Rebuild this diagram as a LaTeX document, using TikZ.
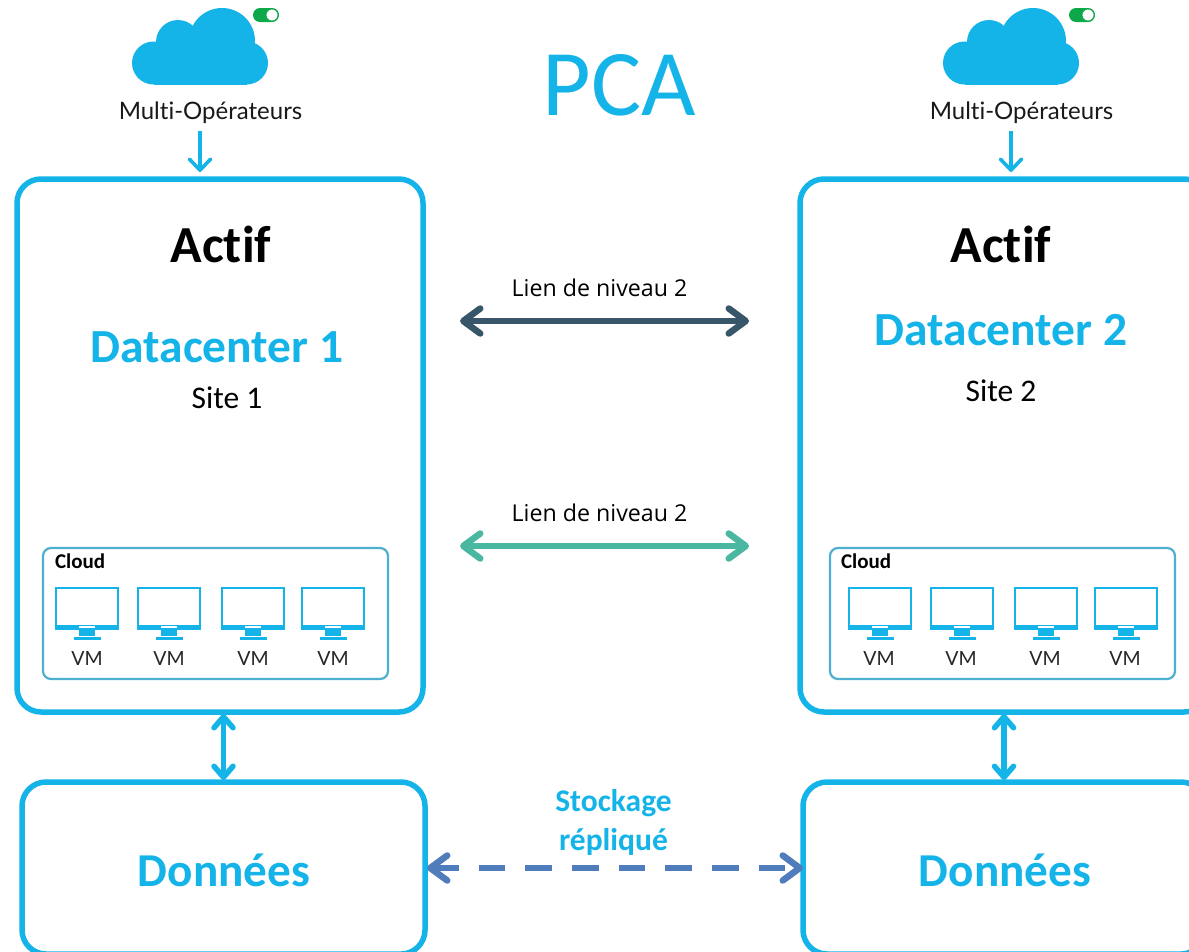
\documentclass[tikz,border=0pt]{standalone}
\usepackage{fontspec}
\setmainfont[Ligatures=NoCommon]{Carlito}
\newfontfamily\latofont[Ligatures=NoCommon]{Lato}
\newfontfamily\opensfont{Open Sans}
\usetikzlibrary{arrows.meta}
\definecolor{cyanb}{HTML}{14B4E9}
\definecolor{panelb}{HTML}{4FAFCF}
\definecolor{slate}{HTML}{37566A}
\definecolor{teal}{HTML}{4AB8A0}
\definecolor{steel}{HTML}{4F7DBB}
\definecolor{togglegreen}{HTML}{0DA84A}
\newcommand{\fs}[1]{\fontsize{#1}{#1}\selectfont}
\tikzset{
  x=1pt,y=-1pt,
  bigbox/.style={draw=cyanb,line width=5.5pt,rounded corners=24pt,outer sep=0pt,inner sep=0pt,fill=white},
  panelbox/.style={draw=panelb,line width=2.2pt,rounded corners=8pt,outer sep=0pt,inner sep=0pt},
  barbs/.style={{Straight Barb[length=17pt,width=25pt,line cap=round,line join=round]}-{Straight Barb[length=17pt,width=25pt,line cap=round,line join=round]}},
  link/.style={line width=6.5pt,barbs},
  drop/.style={draw=cyanb,line width=3.6pt,-{Straight Barb[length=11pt,width=21pt,line cap=round,line join=round]}},
  vlink/.style={draw=cyanb,line width=5.5pt,{Straight Barb[length=11pt,width=19pt,line cap=round,line join=round]}-{Straight Barb[length=11pt,width=19pt,line cap=round,line join=round]}},
  txt/.style={inner sep=0pt,outer sep=0pt,anchor=center},
  cloudlabel/.style={txt,font=\latofont\fs{24},text=black!90},
  actif/.style={txt,font=\bfseries\fs{52}},
  dc/.style={txt,font=\bfseries\fs{47.5},text=cyanb},
  site/.style={txt,font=\fs{31.5}},
  lien/.style={txt,font=\opensfont\fs{23.2}},
  donnees/.style={txt,font=\bfseries\fs{47.2},text=cyanb},
  vmlabel/.style={txt,font=\latofont\fs{19.5},text=black!85},
  cloudname/.style={txt,anchor=west,font=\bfseries\fs{21}},
  pics/cloudicon/.style={code={
    \fill[cyanb] (21.5,55) circle[radius=21.5];
    \fill[cyanb] (114.5,55) circle[radius=21.5];
    \fill[cyanb] (46,34) circle[radius=22];
    \fill[cyanb] (90,33) circle[radius=33];
    \fill[cyanb] (21.5,45) rectangle (114.5,76.5);
  }},
  pics/toggleicon/.style={code={
    \fill[togglegreen,rounded corners=7pt] (0,0) rectangle (26,14);
    \draw[togglegreen,line width=.8pt,fill=white] (19,7) circle[radius=6];
  }},
  pics/vmicon/.style={code={
    \draw[cyanb,line width=1.8pt] (-31.1,-27.9) rectangle (31.1,11);
    \fill[cyanb] (-32,9) rectangle (32,13.5);
    \fill[white] (-8,9.5) rectangle (8,11.5);
    \fill[cyanb] (-8,13) rectangle (8,20);
    \fill[cyanb] (-13.5,20.5) rectangle (13.5,24);
  }},
}
\begin{document}
\begin{tikzpicture}
\useasboundingbox (0,0) rectangle (1189,951);
\clip (0,0) rectangle (1189,951);
\fill[white] (0,0) rectangle (1189,951);

% boxes
\node[bigbox,minimum width=406pt,minimum height=533pt] (dc1) at (220,445.5) {};
\node[bigbox,minimum width=408pt,minimum height=533pt] (dc2) at (1004,445.5) {};
\node[bigbox,minimum width=403pt,minimum height=172pt] (dn1) at (223.5,868) {};
\node[bigbox,minimum width=402pt,minimum height=172pt] (dn2) at (1004,868) {};
\node[panelbox,minimum width=345pt,minimum height=131pt] (cl1) at (215.5,613.5) {};
\node[panelbox,minimum width=345pt,minimum height=131pt] (cl2) at (1002.5,613.5) {};

% title
\node[txt,font=\fs{94},text=cyanb] (title) at (619,85) {PCA};

% clouds
\pic at (132,8) {cloudicon};
\pic at (943,8) {cloudicon};
\pic at (253,8) {toggleicon};
\pic at (1069,8) {toggleicon};
\node[cloudlabel] (mo1) at (210.5,112.5) {Multi-Opérateurs};
\node[cloudlabel] (mo2) at (1021.5,112.5) {Multi-Opérateurs};
\coordinate (d1) at (200,131);
\coordinate (d2) at (1011,131);
\draw[drop,shorten >=7pt] (d1) -- (d1 |- dc1.north);
\draw[drop,shorten >=7pt] (d2) -- (d2 |- dc2.north);

% box texts
\node[actif] (a1) at (221,244) {Actif};
\node[actif] (a2) at (1001,244) {Actif};
\node[dc] (t1) at (217,347) {Datacenter 1};
\node[dc] (t2) at (1001,330) {Datacenter 2};
\node[site] (s1) at (227,398) {Site 1};
\node[site] (s2) at (1001,391) {Site 2};
\node[donnees] (n1) at (224,870.5) {Données};
\node[donnees] (n2) at (1005,870.5) {Données};

% cloud panels
\node[cloudname] (c1) at (55,561.5) {Cloud};
\node[cloudname] (c2) at (841,561.5) {Cloud};
\foreach \x/\i in {87/a,169/b,253/c,333/d}{
  \pic at (\x,616) {vmicon};
  \node[vmlabel] (vm1\i) at (\x,658.5) {VM};
}
\foreach \x/\i in {880/a,962/b,1046/c,1126/d}{
  \pic at (\x,616) {vmicon};
  \node[vmlabel] (vm2\i) at (\x-1,658.5) {VM};
}

% links
\node[lien] (l1) at (599.5,288) {Lien de niveau 2};
\node[lien] (l2) at (599.5,513) {Lien de niveau 2};
\coordinate (l1a) at (460,321);
\coordinate (l1b) at (749,321);
\coordinate (l2a) at (460,546);
\coordinate (l2b) at (749,546);
\draw[link,draw=slate] (l1a) -- (l1b);
\draw[link,draw=teal] (l2a) -- (l2b);

% vertical links
\draw[vlink,shorten <=2pt,shorten >=2pt] (dc1.south -| dn1.north) -- (dn1.north);
\draw[vlink,shorten <=2pt,shorten >=2pt] (dc2.south -| dn2.north) -- (dn2.north);

% replication
\node[txt,font=\bfseries\fs{31.5},text=cyanb] (st) at (613.5,803) {Stockage};
\node[txt,font=\bfseries\fs{31.5},text=cyanb] (re) at (613.5,842) {répliqué};
\draw[link,draw=steel,dash pattern=on 26.7pt off 20pt,dash phase=1.7pt,shorten <=2pt] (dn1.east) -- (dn2.west);
\end{tikzpicture}
\end{document}
